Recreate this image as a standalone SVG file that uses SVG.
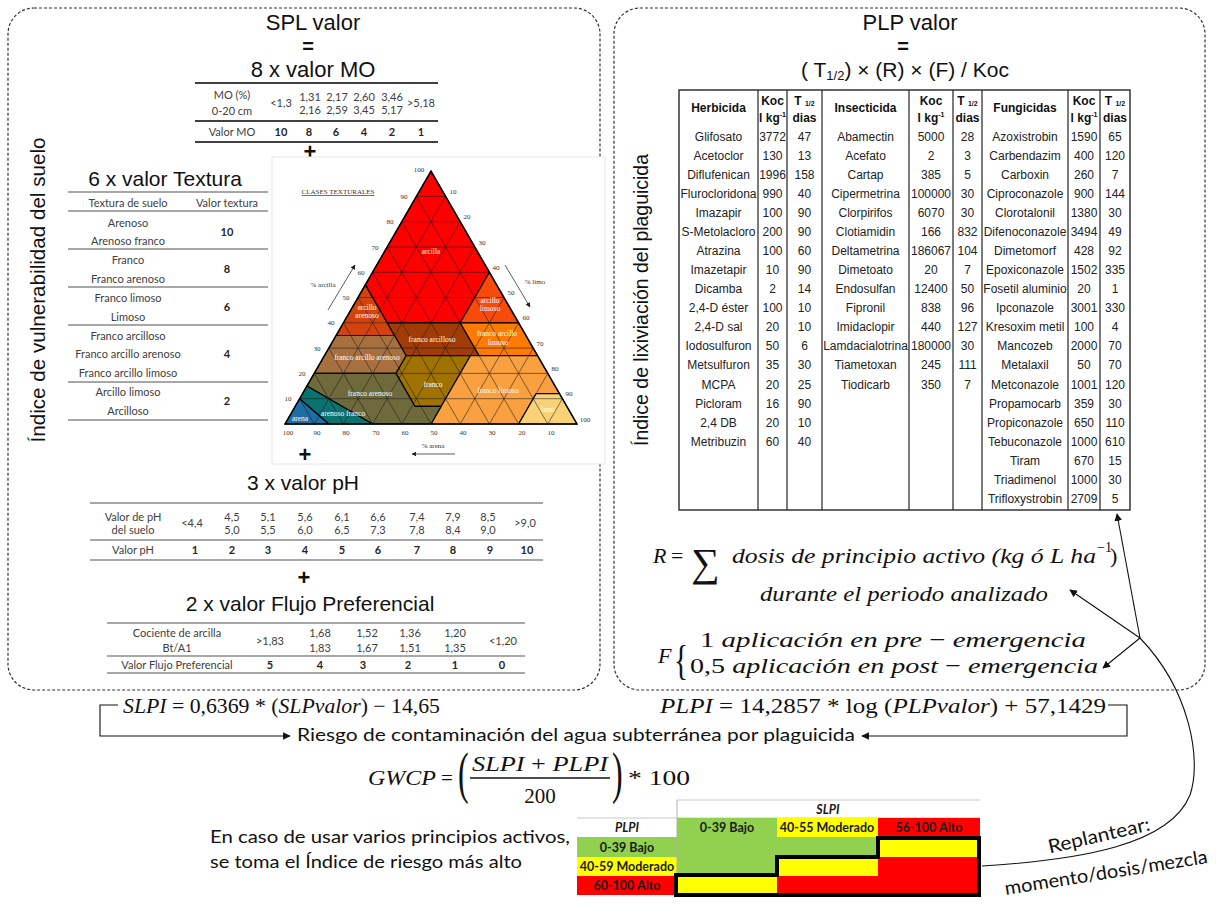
<svg xmlns="http://www.w3.org/2000/svg" width="1216" height="907" viewBox="0 0 1216 907">
<defs>
<style>
.t{font-family:"Liberation Sans",Arial,sans-serif;fill:#111}
.c{font-family:Lato,"Open Sans",sans-serif;font-size:11px;fill:#404040;text-anchor:middle}
.cb{font-family:Lato,"Open Sans",sans-serif;font-size:11px;fill:#262626;text-anchor:middle;font-weight:bold}
.tb{font-family:"Liberation Sans",Arial,sans-serif;font-size:12px;fill:#222;text-anchor:middle}
.hb{font-family:"Liberation Sans",Arial,sans-serif;font-size:12px;fill:#111;text-anchor:middle;font-weight:bold}
.m{font-family:"Liberation Serif","DejaVu Serif",serif;font-style:italic;fill:#111}
.u{font-family:"Liberation Serif","DejaVu Serif",serif;fill:#111}
.tick{font-family:"Liberation Serif",serif;font-size:7px;fill:#333;text-anchor:middle}
.cls{font-family:"Liberation Serif",serif;font-size:7.5px;fill:#fff;text-anchor:middle}
.rk{font-family:Lato,"Open Sans",sans-serif;font-size:12.5px;font-weight:bold;fill:#1a1a1a;text-anchor:middle}
.box{fill:none;stroke:#333;stroke-width:1.2;stroke-dasharray:3 2}
.ln{stroke:#404040;stroke-width:1.8}
.lg{stroke:#8a8a8a;stroke-width:1.5}
.grid{stroke:#1a1a1a;stroke-width:0.55;fill:none}
.cb2{stroke:#000;stroke-width:1.2;stroke-linejoin:round}
.vl{stroke:#333;stroke-width:1.3}
.con{fill:none;stroke:#111;stroke-width:1.1}
</style>
<marker id="ah" viewBox="0 0 10 10" refX="9" refY="5" markerWidth="7" markerHeight="7" orient="auto-start-reverse"><path d="M0,0 L10,5 L0,10 z" fill="#111"/></marker>
<marker id="as" viewBox="0 0 10 10" refX="9" refY="5" markerWidth="6" markerHeight="6" orient="auto"><path d="M0,0 L10,5 L0,10 z" fill="#222"/></marker>
</defs>
<rect width="1216" height="907" fill="#fff"/>

<!-- Left box: SPL -->
<g id="spl-box">
<rect class="box" x="8" y="8" width="592" height="682" rx="26"/>
<text class="t" x="313" y="30" font-size="22" text-anchor="middle">SPL valor</text>
<text class="t" x="308" y="53" font-size="20" text-anchor="middle" font-weight="bold">=</text>
<text class="t" x="313" y="77" font-size="22" text-anchor="middle">8 x valor MO</text>
<text class="t" transform="translate(45,290) rotate(-90)" font-size="21" text-anchor="middle" textLength="305" lengthAdjust="spacingAndGlyphs">Índice de vulnerabilidad del suelo</text>
</g>

<g id="mo-table">
<line class="ln" x1="195" y1="83" x2="438" y2="83"/>
<line class="ln" x1="195" y1="121" x2="438" y2="121"/>
<line class="ln" x1="195" y1="142" x2="438" y2="142"/>
<text class="c" x="232" y="99" font-size="11.5">MO (%)</text>
<text class="c" x="232" y="115" font-size="11.5">0-20 cm</text>
<text class="c" x="281" y="107" font-size="11.5">&lt;1,3</text>
<text class="c" x="310" y="101" font-size="11.5">1,31</text><text class="c" x="310" y="114" font-size="11.5">2,16</text>
<text class="c" x="337" y="101" font-size="11.5">2,17</text><text class="c" x="337" y="114" font-size="11.5">2,59</text>
<text class="c" x="364" y="101" font-size="11.5">2,60</text><text class="c" x="364" y="114" font-size="11.5">3,45</text>
<text class="c" x="392" y="101" font-size="11.5">3,46</text><text class="c" x="392" y="114" font-size="11.5">5,17</text>
<text class="c" x="421" y="107" font-size="11.5">&gt;5,18</text>
<text class="c" x="232" y="136" font-size="11.5">Valor MO</text>
<text class="cb" x="281" y="136" font-size="11.5">10</text><text class="cb" x="309" y="136" font-size="11.5">8</text><text class="cb" x="336" y="136" font-size="11.5">6</text><text class="cb" x="364" y="136" font-size="11.5">4</text><text class="cb" x="392" y="136" font-size="11.5">2</text><text class="cb" x="421" y="136" font-size="11.5">1</text>
<text class="t" x="310" y="159" font-size="22" font-weight="bold" text-anchor="middle">+</text>
</g>

<g id="textura-table">
<text class="t" x="165" y="186" font-size="21" text-anchor="middle">6 x valor Textura</text>
<line class="lg" x1="68" y1="192" x2="268" y2="192"/>
<line class="lg" x1="68" y1="211" x2="268" y2="211"/>
<line class="lg" x1="68" y1="249" x2="268" y2="249"/>
<line class="lg" x1="68" y1="287" x2="268" y2="287"/>
<line class="lg" x1="68" y1="325" x2="268" y2="325"/>
<line class="lg" x1="68" y1="382" x2="268" y2="382"/>
<line class="lg" x1="68" y1="420" x2="268" y2="420"/>
<text class="c" x="128" y="207" font-size="11.5">Textura de suelo</text>
<text class="c" x="227" y="207" font-size="11.5">Valor textura</text>
<text class="c" x="128" y="227">Arenoso</text><text class="c" x="128" y="245">Arenoso franco</text><text class="cb" x="227" y="236">10</text>
<text class="c" x="128" y="264">Franco</text><text class="c" x="128" y="283">Franco arenoso</text><text class="cb" x="227" y="273">8</text>
<text class="c" x="128" y="302">Franco limoso</text><text class="c" x="128" y="321">Limoso</text><text class="cb" x="227" y="311">6</text>
<text class="c" x="128" y="340">Franco arcilloso</text><text class="c" x="128" y="358">Franco arcillo arenoso</text><text class="c" x="128" y="377">Franco arcillo limoso</text><text class="cb" x="227" y="358">4</text>
<text class="c" x="128" y="396">Arcillo limoso</text><text class="c" x="128" y="415">Arcilloso</text><text class="cb" x="227" y="405">2</text>
</g>

<g id="triangulo-textural">
<rect x="272" y="157" width="333" height="307" fill="#fff" stroke="#e6e6e6" stroke-width="1"/>
<polygon class="cb2" fill="#FF0000" points="431,171.1 489.4,272.3 460.2,322.8 387.2,322.8 365.3,284.9"/>
<polygon class="cb2" fill="#F84A0A" points="489.4,272.3 518.6,322.8 460.2,322.8"/>
<polygon class="cb2" fill="#D4430E" points="365.3,284.9 394.5,335.5 336.1,335.5"/>
<polygon class="cb2" fill="#A33B06" points="460.2,322.8 387.2,322.8 406.2,355.7 479.2,355.7"/>
<polygon class="cb2" fill="#FF7A00" points="518.6,322.8 460.2,322.8 479.2,355.7 537.6,355.7"/>
<polygon class="cb2" fill="#A8703F" points="394.5,335.5 336.1,335.5 314.2,373.4 396,373.4 406.2,355.7"/>
<polygon class="cb2" fill="#A07300" points="470.4,355.7 406.2,355.7 396,373.4 414.9,406.3 441.2,406.3"/>
<polygon class="cb2" fill="#F9A040" points="470.4,355.7 537.6,355.7 559.5,393.7 536.1,393.7 518.6,424 431,424 441.2,406.3"/>
<polygon class="cb2" fill="#F9D277" points="536.1,393.7 559.5,393.7 577,424 518.6,424"/>
<polygon class="cb2" fill="#6E6A3B" points="314.2,373.4 396,373.4 414.9,406.3 441.2,406.3 431,424 372.6,424 306.9,386.1"/>
<polygon class="cb2" fill="#0B7270" points="372.6,424 306.9,386.1 299.6,398.7 328.8,424"/>
<polygon class="cb2" fill="#1D6FA3" points="328.8,424 299.6,398.7 285,424"/>
<path class="grid" d="M299.6,398.7H562.4M314.2,373.4H547.8M328.8,348.1H533.2M343.4,322.8H518.6M358,297.5H504M372.6,272.3H489.4M387.2,247H474.8M401.8,221.7H460.2M416.4,196.4H445.6
M314.2,424L299.6,398.7M343.4,424L314.2,373.4M372.6,424L328.8,348.1M401.8,424L343.4,322.8M431,424L358,297.5M460.2,424L372.6,272.3M489.4,424L387.2,247M518.6,424L401.8,221.7M547.8,424L416.4,196.4
M314.2,424L445.6,196.4M343.4,424L460.2,221.7M372.6,424L474.8,247M401.8,424L489.4,272.3M431,424L504,297.5M460.2,424L518.6,322.8M489.4,424L533.2,348.1M518.6,424L547.8,373.4M547.8,424L562.4,398.7"/>
<polygon points="431,171.1 577,424 285,424" fill="none" stroke="#000" stroke-width="1.4"/>
<g class="tick">
<text x="288" y="401">10</text><text x="302" y="376">20</text><text x="317" y="351">30</text><text x="331" y="325">40</text><text x="346" y="300">50</text><text x="361" y="275">60</text><text x="375" y="250">70</text><text x="390" y="224">80</text><text x="404" y="199">90</text><text x="419" y="172">100</text>
<text x="453" y="194">10</text><text x="467" y="219">20</text><text x="482" y="245">30</text><text x="496" y="270">40</text><text x="511" y="295">50</text><text x="526" y="320">60</text><text x="540" y="346">70</text><text x="555" y="371">80</text><text x="569" y="396">90</text><text x="585" y="422">100</text>
<text x="288" y="435">100</text><text x="317" y="435">90</text><text x="346" y="435">80</text><text x="376" y="435">70</text><text x="405" y="435">60</text><text x="434" y="435">50</text><text x="463" y="435">40</text><text x="492" y="435">30</text><text x="522" y="435">20</text><text x="551" y="435">10</text>
<text x="323" y="287">% arcilla</text><text x="535" y="284">% limo</text><text x="433" y="448">% arena</text>
<text x="338" y="194" text-decoration="underline">CLASES TEXTURALES</text>
</g>
<line x1="328" y1="310" x2="355" y2="265" stroke="#333" stroke-width="0.8" marker-end="url(#as)"/>
<line x1="505" y1="265" x2="530" y2="307" stroke="#333" stroke-width="0.8" marker-end="url(#as)"/>
<line x1="455" y1="454" x2="412" y2="454" stroke="#333" stroke-width="0.8" marker-end="url(#as)"/>
<g class="cls">
<text x="431" y="254">arcilla</text>
<text x="367" y="310">arcillo</text><text x="367" y="318">arenoso</text>
<text x="490" y="303">arcillo</text><text x="490" y="311">limoso</text>
<text x="432" y="342">franco arcilloso</text>
<text x="497" y="336">franco arcillo</text><text x="498" y="345">limoso</text>
<text x="367" y="360">franco arcillo arenoso</text>
<text x="433" y="387">franco</text>
<text x="498" y="393">franco limoso</text>
<text x="548" y="412">limo</text>
<text x="370" y="396">franco arenoso</text>
<text x="343" y="416">arenoso franco</text>
<text x="300" y="421">arena</text>
</g>
<text class="t" x="305" y="462" font-size="22" font-weight="bold" text-anchor="middle">+</text>
</g>

<g id="ph-table">
<text class="t" x="303" y="490" font-size="21" text-anchor="middle">3 x valor pH</text>
<line class="lg" x1="90" y1="503" x2="543" y2="503"/>
<line class="lg" x1="90" y1="540" x2="543" y2="540"/>
<line class="lg" x1="90" y1="560" x2="543" y2="560"/>
<text class="c" x="133" y="521">Valor de pH</text><text class="c" x="133" y="534">del suelo</text>
<text class="c" x="192" y="527">&lt;4,4</text>
<text class="c" x="232" y="521">4,5</text><text class="c" x="232" y="534">5,0</text>
<text class="c" x="268" y="521">5,1</text><text class="c" x="268" y="534">5,5</text>
<text class="c" x="305" y="521">5,6</text><text class="c" x="305" y="534">6,0</text>
<text class="c" x="342" y="521">6,1</text><text class="c" x="342" y="534">6,5</text>
<text class="c" x="378" y="521">6,6</text><text class="c" x="378" y="534">7,3</text>
<text class="c" x="417" y="521">7,4</text><text class="c" x="417" y="534">7,8</text>
<text class="c" x="453" y="521">7,9</text><text class="c" x="453" y="534">8,4</text>
<text class="c" x="488" y="521">8,5</text><text class="c" x="488" y="534">9,0</text>
<text class="c" x="525" y="527">&gt;9,0</text>
<text class="c" x="133" y="554">Valor pH</text>
<text class="cb" x="195" y="554">1</text><text class="cb" x="232" y="554">2</text><text class="cb" x="268" y="554">3</text><text class="cb" x="305" y="554">4</text><text class="cb" x="342" y="554">5</text><text class="cb" x="378" y="554">6</text><text class="cb" x="417" y="554">7</text><text class="cb" x="453" y="554">8</text><text class="cb" x="490" y="554">9</text><text class="cb" x="527" y="554">10</text>
<text class="t" x="304" y="585" font-size="22" font-weight="bold" text-anchor="middle">+</text>
</g>

<g id="flujo-table">
<text class="t" x="310" y="611" font-size="21" text-anchor="middle">2 x valor Flujo Preferencial</text>
<line class="lg" x1="107" y1="623" x2="525" y2="623"/>
<line class="lg" x1="107" y1="656" x2="525" y2="656"/>
<line class="lg" x1="107" y1="673" x2="525" y2="673"/>
<text class="c" x="177" y="637">Cociente de arcilla</text><text class="c" x="177" y="652">Bt/A1</text>
<text class="c" x="270" y="645">&gt;1,83</text>
<text class="c" x="320" y="637">1,68</text><text class="c" x="320" y="652">1,83</text>
<text class="c" x="367" y="637">1,52</text><text class="c" x="367" y="652">1,67</text>
<text class="c" x="410" y="637">1,36</text><text class="c" x="410" y="652">1,51</text>
<text class="c" x="455" y="637">1,20</text><text class="c" x="455" y="652">1,35</text>
<text class="c" x="503" y="645">&lt;1,20</text>
<text class="c" x="177" y="669">Valor Flujo Preferencial</text>
<text class="cb" x="270" y="669">5</text><text class="cb" x="320" y="669">4</text><text class="cb" x="363" y="669">3</text><text class="cb" x="408" y="669">2</text><text class="cb" x="455" y="669">1</text><text class="cb" x="502" y="669">0</text>
</g>

<!-- Right box: PLP -->
<g id="plp-box">
<rect class="box" x="614" y="8" width="591" height="682" rx="26"/>
<text class="t" x="910" y="30" font-size="22" text-anchor="middle">PLP valor</text>
<text class="t" x="903" y="53" font-size="20" text-anchor="middle" font-weight="bold">=</text>
<text class="t" x="905" y="77" font-size="21" text-anchor="middle">( T<tspan font-size="13" dy="3">1/2</tspan><tspan dy="-3">) × (R) × (F) / Koc</tspan></text>
<text class="t" transform="translate(648,300) rotate(-90)" font-size="21" text-anchor="middle" textLength="292" lengthAdjust="spacingAndGlyphs">Índice de lixiviación del plaguicida</text>
</g>

<g id="plaguicidas-table">
<rect x="679" y="90" width="451" height="420" fill="none" stroke="#333" stroke-width="1.5"/>
<line class="vl" x1="758" y1="90" x2="758" y2="510"/>
<line class="vl" x1="787" y1="90" x2="787" y2="510"/>
<line class="vl" x1="822" y1="90" x2="822" y2="510" stroke-width="1.8"/>
<line class="vl" x1="909" y1="90" x2="909" y2="510"/>
<line class="vl" x1="953" y1="90" x2="953" y2="510"/>
<line class="vl" x1="982" y1="90" x2="982" y2="510" stroke-width="1.8"/>
<line class="vl" x1="1068" y1="90" x2="1068" y2="510"/>
<line class="vl" x1="1100" y1="90" x2="1100" y2="510"/>
<text class="hb" x="718.5" y="112">Herbicida</text>
<text class="hb" x="772.5" y="105">Koc</text><text class="hb" x="772.5" y="122">l kg<tspan font-size="7" dy="-5">-1</tspan></text>
<text class="hb" x="804.5" y="105">T <tspan font-size="7" dy="1">1/2</tspan></text><text class="hb" x="804.5" y="122">dias</text>
<text class="hb" x="865.5" y="112">Insecticida</text>
<text class="hb" x="931" y="105">Koc</text><text class="hb" x="931" y="122">l kg<tspan font-size="7" dy="-5">-1</tspan></text>
<text class="hb" x="967.5" y="105">T <tspan font-size="7" dy="1">1/2</tspan></text><text class="hb" x="967.5" y="122">dias</text>
<text class="hb" x="1025" y="112">Fungicidas</text>
<text class="hb" x="1084" y="105">Koc</text><text class="hb" x="1084" y="122">l kg<tspan font-size="7" dy="-5">-1</tspan></text>
<text class="hb" x="1115" y="105">T <tspan font-size="7" dy="1">1/2</tspan></text><text class="hb" x="1115" y="122">dias</text>
<g class="tb">
<text x="718.5" y="141">Glifosato</text><text x="772.5" y="141">3772</text><text x="804.5" y="141">47</text>
<text x="718.5" y="160">Acetoclor</text><text x="772.5" y="160">130</text><text x="804.5" y="160">13</text>
<text x="718.5" y="179">Diflufenican</text><text x="772.5" y="179">1996</text><text x="804.5" y="179">158</text>
<text x="718.5" y="198">Flurocloridona</text><text x="772.5" y="198">990</text><text x="804.5" y="198">40</text>
<text x="718.5" y="217">Imazapir</text><text x="772.5" y="217">100</text><text x="804.5" y="217">90</text>
<text x="718.5" y="236">S-Metolacloro</text><text x="772.5" y="236">200</text><text x="804.5" y="236">90</text>
<text x="718.5" y="255">Atrazina</text><text x="772.5" y="255">100</text><text x="804.5" y="255">60</text>
<text x="718.5" y="274">Imazetapir</text><text x="772.5" y="274">10</text><text x="804.5" y="274">90</text>
<text x="718.5" y="293">Dicamba</text><text x="772.5" y="293">2</text><text x="804.5" y="293">14</text>
<text x="718.5" y="312">2,4-D éster</text><text x="772.5" y="312">100</text><text x="804.5" y="312">10</text>
<text x="718.5" y="331">2,4-D sal</text><text x="772.5" y="331">20</text><text x="804.5" y="331">10</text>
<text x="718.5" y="350">Iodosulfuron</text><text x="772.5" y="350">50</text><text x="804.5" y="350">6</text>
<text x="718.5" y="369">Metsulfuron</text><text x="772.5" y="369">35</text><text x="804.5" y="369">30</text>
<text x="718.5" y="389">MCPA</text><text x="772.5" y="389">20</text><text x="804.5" y="389">25</text>
<text x="718.5" y="408">Picloram</text><text x="772.5" y="408">16</text><text x="804.5" y="408">90</text>
<text x="718.5" y="427">2,4 DB</text><text x="772.5" y="427">20</text><text x="804.5" y="427">10</text>
<text x="718.5" y="446">Metribuzin</text><text x="772.5" y="446">60</text><text x="804.5" y="446">40</text>

<text x="865.5" y="141">Abamectin</text><text x="931" y="141">5000</text><text x="967.5" y="141">28</text>
<text x="865.5" y="160">Acefato</text><text x="931" y="160">2</text><text x="967.5" y="160">3</text>
<text x="865.5" y="179">Cartap</text><text x="931" y="179">385</text><text x="967.5" y="179">5</text>
<text x="865.5" y="198">Cipermetrina</text><text x="931" y="198">100000</text><text x="967.5" y="198">30</text>
<text x="865.5" y="217">Clorpirifos</text><text x="931" y="217">6070</text><text x="967.5" y="217">30</text>
<text x="865.5" y="236">Clotiamidin</text><text x="931" y="236">166</text><text x="967.5" y="236">832</text>
<text x="865.5" y="255">Deltametrina</text><text x="931" y="255">186067</text><text x="967.5" y="255">104</text>
<text x="865.5" y="274">Dimetoato</text><text x="931" y="274">20</text><text x="967.5" y="274">7</text>
<text x="865.5" y="293">Endosulfan</text><text x="931" y="293">12400</text><text x="967.5" y="293">50</text>
<text x="865.5" y="312">Fipronil</text><text x="931" y="312">838</text><text x="967.5" y="312">96</text>
<text x="865.5" y="331">Imidaclopir</text><text x="931" y="331">440</text><text x="967.5" y="331">127</text>
<text x="865.5" y="350">Lamdacialotrina</text><text x="931" y="350">180000</text><text x="967.5" y="350">30</text>
<text x="865.5" y="369">Tiametoxan</text><text x="931" y="369">245</text><text x="967.5" y="369">111</text>
<text x="865.5" y="389">Tiodicarb</text><text x="931" y="389">350</text><text x="967.5" y="389">7</text>

<text x="1025" y="141">Azoxistrobin</text><text x="1084" y="141">1590</text><text x="1115" y="141">65</text>
<text x="1025" y="160">Carbendazim</text><text x="1084" y="160">400</text><text x="1115" y="160">120</text>
<text x="1025" y="179">Carboxin</text><text x="1084" y="179">260</text><text x="1115" y="179">7</text>
<text x="1025" y="198">Ciproconazole</text><text x="1084" y="198">900</text><text x="1115" y="198">144</text>
<text x="1025" y="217">Clorotalonil</text><text x="1084" y="217">1380</text><text x="1115" y="217">30</text>
<text x="1025" y="236">Difenoconazole</text><text x="1084" y="236">3494</text><text x="1115" y="236">49</text>
<text x="1025" y="255">Dimetomorf</text><text x="1084" y="255">428</text><text x="1115" y="255">92</text>
<text x="1025" y="274">Epoxiconazole</text><text x="1084" y="274">1502</text><text x="1115" y="274">335</text>
<text x="1025" y="293">Fosetil aluminio</text><text x="1084" y="293">20</text><text x="1115" y="293">1</text>
<text x="1025" y="312">Ipconazole</text><text x="1084" y="312">3001</text><text x="1115" y="312">330</text>
<text x="1025" y="331">Kresoxim metil</text><text x="1084" y="331">100</text><text x="1115" y="331">4</text>
<text x="1025" y="350">Mancozeb</text><text x="1084" y="350">2000</text><text x="1115" y="350">70</text>
<text x="1025" y="369">Metalaxil</text><text x="1084" y="369">50</text><text x="1115" y="369">70</text>
<text x="1025" y="389">Metconazole</text><text x="1084" y="389">1001</text><text x="1115" y="389">120</text>
<text x="1025" y="408">Propamocarb</text><text x="1084" y="408">359</text><text x="1115" y="408">30</text>
<text x="1025" y="427">Propiconazole</text><text x="1084" y="427">650</text><text x="1115" y="427">110</text>
<text x="1025" y="446">Tebuconazole</text><text x="1084" y="446">1000</text><text x="1115" y="446">610</text>
<text x="1025" y="465">Tiram</text><text x="1084" y="465">670</text><text x="1115" y="465">15</text>
<text x="1025" y="484">Triadimenol</text><text x="1084" y="484">1000</text><text x="1115" y="484">30</text>
<text x="1025" y="503">Trifloxystrobin</text><text x="1084" y="503">2709</text><text x="1115" y="503">5</text>
</g>
</g>

<g id="formula-R">
<text class="m" x="653" y="563" font-size="22">R</text>
<text class="u" x="671" y="563" font-size="22">=</text>
<text class="u" x="691" y="576" font-size="40" font-family="DejaVu Serif">∑</text>
<text class="m" x="732" y="563" font-size="22" textLength="364" lengthAdjust="spacingAndGlyphs">dosis de principio activo (kg ó L ha</text>
<text class="u" x="1097" y="552" font-size="14">−1</text>
<text class="u" x="1110" y="563" font-size="22">)</text>
<text class="m" x="760" y="601" font-size="22" textLength="288" lengthAdjust="spacingAndGlyphs">durante el periodo analizado</text>
</g>
<g id="formula-F">
<text class="m" x="658" y="663" font-size="22">F</text>
<text class="u" transform="translate(674,674) scale(0.7,1)" font-size="42">{</text>
<text class="m" x="700" y="647" font-size="22" textLength="386" lengthAdjust="spacingAndGlyphs"><tspan font-style="normal">1</tspan> aplicación en pre <tspan font-style="normal">−</tspan> emergencia</text>
<text class="m" x="690" y="673" font-size="22" textLength="408" lengthAdjust="spacingAndGlyphs"><tspan font-style="normal">0,5</tspan> aplicación en post <tspan font-style="normal">−</tspan> emergencia</text>
</g>

<g id="formula-SLPI">
<text class="m" x="123" y="713" font-size="21" textLength="317" lengthAdjust="spacingAndGlyphs">SLPI <tspan font-style="normal">= 0,6369 * (</tspan>SLPvalor<tspan font-style="normal">) − 14,65</tspan></text>
</g>
<g id="formula-PLPI">
<text class="m" x="660" y="713" font-size="21" textLength="446" lengthAdjust="spacingAndGlyphs">PLPI <tspan font-style="normal">= 14,2857 * log  (</tspan>PLPvalor<tspan font-style="normal">) + 57,1429</tspan></text>
</g>
<g id="riesgo">
<text x="297" y="741" font-family="Lato,'Open Sans',sans-serif" font-size="18" fill="#111" textLength="558" lengthAdjust="spacingAndGlyphs">Riesgo de contaminación del agua subterránea por plaguicida</text>
</g>
<g id="formula-GWCP">
<text class="m" x="368" y="785" font-size="21" textLength="68" lengthAdjust="spacingAndGlyphs">GWCP</text>
<text class="u" x="441" y="785" font-size="21">=</text>
<text class="u" transform="translate(458,792) scale(0.55,1)" font-size="58">(</text>
<text class="m" x="472" y="771" font-size="21" textLength="136" lengthAdjust="spacingAndGlyphs">SLPI <tspan font-style="normal">+</tspan> PLPI</text>
<line x1="470" y1="778" x2="610" y2="778" stroke="#111" stroke-width="1.3"/>
<text class="u" x="540" y="803" font-size="21" text-anchor="middle">200</text>
<text class="u" transform="translate(612,792) scale(0.55,1)" font-size="58">)</text>
<text class="u" x="628" y="785" font-size="21" textLength="62" lengthAdjust="spacingAndGlyphs">* 100</text>
</g>
<g id="nota">
<text x="210" y="843" font-family="Lato,'Open Sans',sans-serif" font-size="17" fill="#111" textLength="360" lengthAdjust="spacingAndGlyphs">En caso de usar varios principios activos,</text>
<text x="210" y="868" font-family="Lato,'Open Sans',sans-serif" font-size="17" fill="#111" textLength="312" lengthAdjust="spacingAndGlyphs">se toma el Índice de riesgo más alto</text>
</g>

<g id="matriz-riesgo">
<line x1="677" y1="800" x2="980" y2="800" stroke="#c8c8c8" stroke-width="1"/>
<line x1="577" y1="818" x2="980" y2="818" stroke="#c8c8c8" stroke-width="1"/>
<text class="rk" x="828" y="814" font-style="italic">SLPI</text>
<rect x="677" y="818" width="100" height="19" fill="#92D050"/>
<rect x="777" y="818" width="101" height="19" fill="#FFFF00"/>
<rect x="878" y="818" width="102" height="19" fill="#FF0000"/>
<rect x="577" y="837" width="100" height="20" fill="#92D050"/>
<rect x="677" y="837" width="201" height="20" fill="#92D050"/>
<rect x="878" y="837" width="102" height="20" fill="#FFFF00"/>
<rect x="577" y="857" width="100" height="19" fill="#FFFF00"/>
<rect x="677" y="857" width="100" height="19" fill="#92D050"/>
<rect x="777" y="857" width="101" height="19" fill="#FFFF00"/>
<rect x="878" y="857" width="102" height="19" fill="#FF0000"/>
<rect x="577" y="876" width="100" height="19" fill="#FF0000"/>
<rect x="677" y="876" width="100" height="19" fill="#FFFF00"/>
<rect x="777" y="876" width="203" height="19" fill="#FF0000"/>
<line x1="677" y1="800" x2="677" y2="895" stroke="#b0b0b0" stroke-width="1"/>
<text class="rk" x="627" y="832" font-style="italic">PLPI</text>
<text class="rk" x="727" y="832">0-39 Bajo</text>
<text class="rk" x="827" y="832">40-55 Moderado</text>
<text class="rk" x="929" y="832">56-100 Alto</text>
<text class="rk" x="627" y="852">0-39 Bajo</text>
<text class="rk" x="627" y="871">40-59 Moderado</text>
<text class="rk" x="627" y="890">60-100 Alto</text>
<polygon points="878,838 979,838 979,895 676,895 676,875 777,875 777,857 878,857" fill="none" stroke="#000" stroke-width="4" stroke-linejoin="miter"/>
</g>

<g id="replantear">
<text x="1099" y="842" font-family="Lato,'Open Sans',sans-serif" font-size="19" fill="#111" text-anchor="middle" textLength="104" lengthAdjust="spacingAndGlyphs" transform="rotate(-13 1099 836)">Replantear:</text>
<text x="1106" y="879" font-family="Lato,'Open Sans',sans-serif" font-size="19" fill="#111" text-anchor="middle" textLength="205" lengthAdjust="spacingAndGlyphs" transform="rotate(-9 1106 872)">momento/dosis/mezcla</text>
</g>

<g id="connectors">
<path class="con" d="M118,705 H100 V736 H290" marker-end="url(#ah)"/>
<path class="con" d="M1108,705 H1127 V736 H862" marker-end="url(#ah)"/>
<path class="con" d="M982,866 C1080,860 1170,845 1190,795 C1202,760 1190,690 1140,638"/>
<path class="con" d="M1140,638 L1117,514" marker-end="url(#ah)"/>
<path class="con" d="M1140,638 L1070,590" marker-end="url(#ah)"/>
<path class="con" d="M1140,638 L1103,668" marker-end="url(#ah)"/>
</g>
</svg>
